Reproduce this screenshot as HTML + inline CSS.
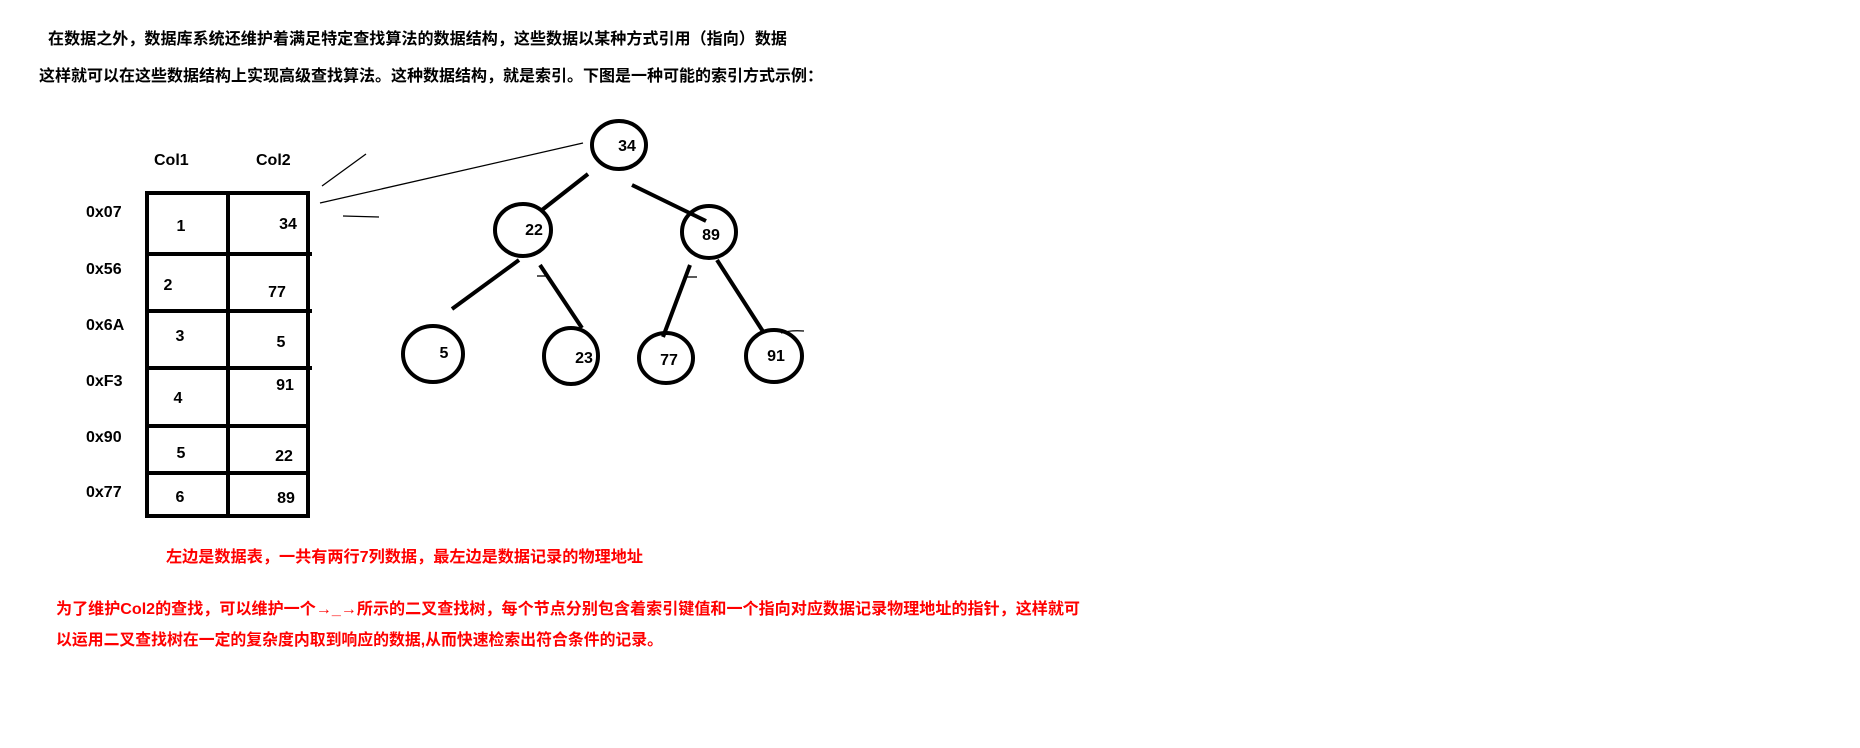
<!DOCTYPE html>
<html><head><meta charset="utf-8"><style>
html,body{margin:0;padding:0;background:#fff;}
svg{display:block;}
text{font-family:"Liberation Sans","Noto Sans CJK SC",sans-serif;font-weight:bold;}
</style></head><body>
<svg width="1860" height="748" viewBox="0 0 1860 748" xmlns="http://www.w3.org/2000/svg">
<rect width="1860" height="748" fill="#fff"/>
<g font-size="16" fill="#000">
<text x="48" y="44" textLength="739" lengthAdjust="spacingAndGlyphs">在数据之外，数据库系统还维护着满足特定查找算法的数据结构，这些数据以某种方式引用（指向）数据</text>
<text x="39" y="81" textLength="784" lengthAdjust="spacingAndGlyphs">这样就可以在这些数据结构上实现高级查找算法。这种数据结构，就是索引。下图是一种可能的索引方式示例：</text>
</g>
<g font-size="16" fill="#f00">
<text x="166" y="562" textLength="477" lengthAdjust="spacingAndGlyphs">左边是数据表，一共有两行7列数据，最左边是数据记录的物理地址</text>
<text x="56" y="614" textLength="1024" lengthAdjust="spacingAndGlyphs">为了维护Col2的查找，可以维护一个→_→所示的二叉查找树，每个节点分别包含着索引键值和一个指向对应数据记录物理地址的指针，这样就可</text>
<text x="56" y="645" textLength="607" lengthAdjust="spacingAndGlyphs">以运用二叉查找树在一定的复杂度内取到响应的数据,从而快速检索出符合条件的记录。</text>
</g>
<g font-size="16" fill="#000">
<text x="154" y="165">Col1</text>
<text x="256" y="165">Col2</text>
<text x="86" y="217">0x07</text>
<text x="86" y="274">0x56</text>
<text x="86" y="330">0x6A</text>
<text x="86" y="386">0xF3</text>
<text x="86" y="442">0x90</text>
<text x="86" y="497">0x77</text>
<g text-anchor="middle">
<text x="181" y="231">1</text>
<text x="168" y="290">2</text>
<text x="180" y="341">3</text>
<text x="178" y="403">4</text>
<text x="181" y="458">5</text>
<text x="180" y="502">6</text>
<text x="288" y="229">34</text>
<text x="277" y="297">77</text>
<text x="281" y="347">5</text>
<text x="285" y="390">91</text>
<text x="284" y="461">22</text>
<text x="286" y="503">89</text>
</g>
</g>
<g stroke="#000" stroke-width="4" fill="none">
<rect x="147" y="193" width="161" height="323"/>
<line x1="228" y1="191" x2="228" y2="516"/>
<line x1="147" y1="254" x2="312" y2="254"/>
<line x1="147" y1="311" x2="312" y2="311"/>
<line x1="147" y1="368" x2="312" y2="368"/>
<line x1="147" y1="426" x2="310" y2="426"/>
<line x1="147" y1="473" x2="310" y2="473"/>
<ellipse cx="619" cy="145" rx="27" ry="24"/>
<ellipse cx="523" cy="230" rx="28" ry="26"/>
<ellipse cx="709" cy="232" rx="27" ry="26"/>
<ellipse cx="433" cy="354" rx="30" ry="28"/>
<ellipse cx="571" cy="356" rx="27" ry="28"/>
<ellipse cx="666" cy="358" rx="27" ry="25"/>
<ellipse cx="774" cy="356" rx="28" ry="26"/>
<line x1="588" y1="174" x2="542" y2="210"/>
<line x1="632" y1="185" x2="706" y2="221"/>
<line x1="519" y1="260" x2="452" y2="309"/>
<line x1="540" y1="265" x2="582" y2="328"/>
<line x1="690" y1="265" x2="663" y2="337"/>
<line x1="717" y1="260" x2="764" y2="333"/>
</g>
<g stroke="#000" stroke-width="1.3" fill="none">
<line x1="320" y1="203" x2="583" y2="143"/>
<line x1="322" y1="186" x2="366" y2="154"/>
<line x1="343" y1="216" x2="379" y2="217"/>
<line x1="537" y1="276" x2="548" y2="276"/>
<line x1="686" y1="277" x2="697" y2="277"/>
<path d="M781 333 Q790 330 804 331"/>
</g>
<g font-size="16" fill="#000" text-anchor="middle">
<text x="627" y="151">34</text>
<text x="534" y="235">22</text>
<text x="711" y="240">89</text>
<text x="444" y="358">5</text>
<text x="584" y="363">23</text>
<text x="669" y="365">77</text>
<text x="776" y="361">91</text>
</g>
</svg>
</body></html>
